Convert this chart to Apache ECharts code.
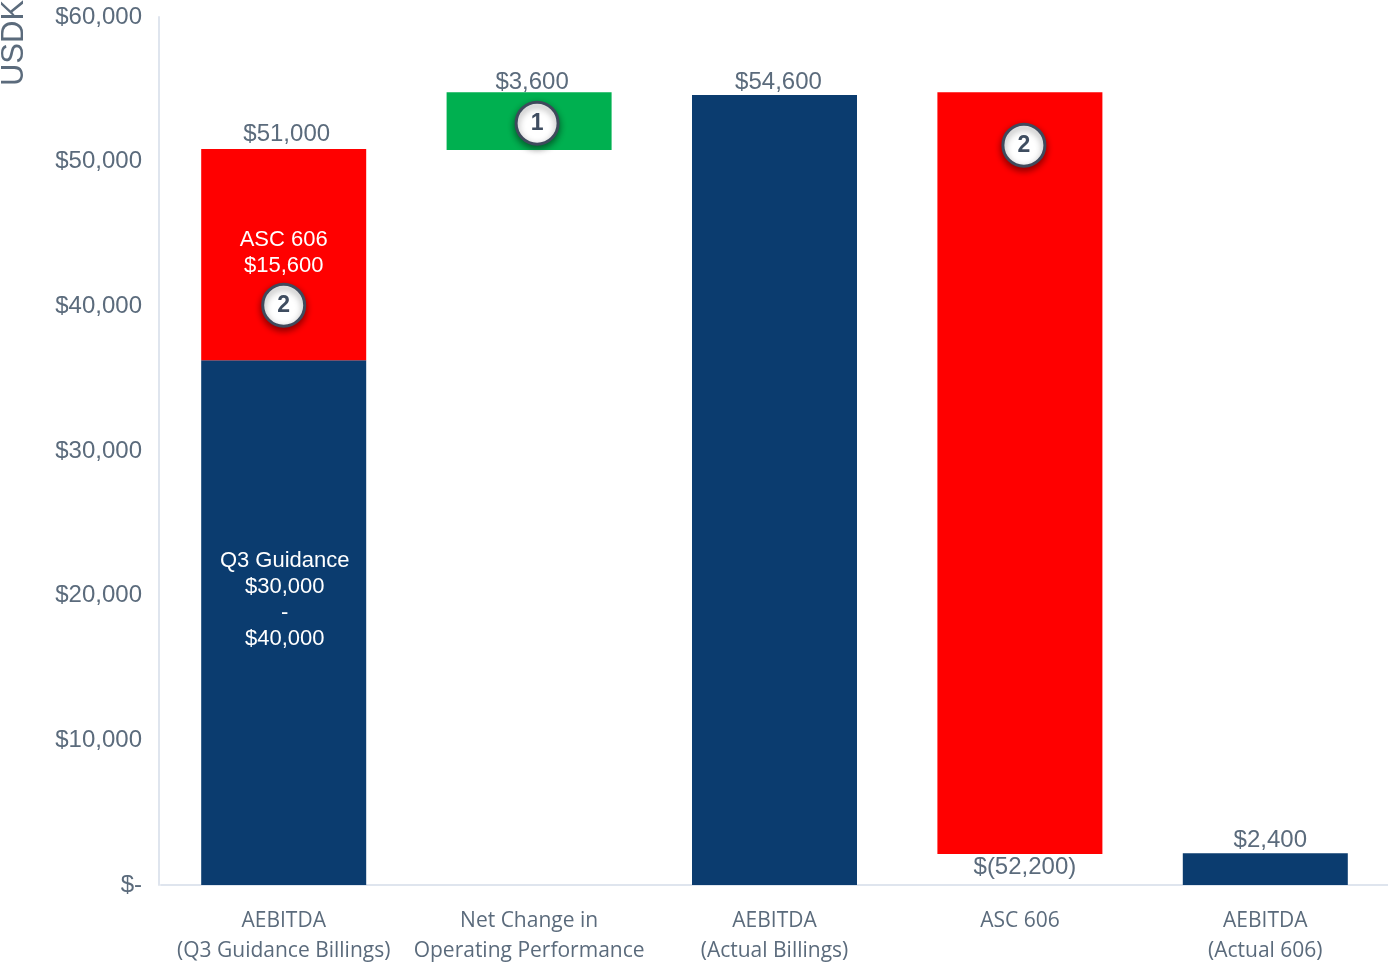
<!DOCTYPE html>
<html>
<head>
<meta charset="utf-8">
<style>html,body{margin:0;padding:0;background:#fff}#c{width:1388px;height:965px}</style>
<script src="https://cdn.jsdelivr.net/npm/echarts@6/dist/echarts.min.js"></script>
</head>
<body>
<div id="c"></div>
<script>
const categories = ['AEBITDA\n(Q3 Guidance Billings)', 'Net Change in\nOperating Performance', 'AEBITDA\n(Actual Billings)', 'ASC 606', 'AEBITDA\n(Actual 606)'];
const yMin = 0, yMax = 60000, yStep = 10000;
const baseValues  = [0, 50800, 0, 2140, 0];
const navyValues  = [36280, null, 54600, null, 2200];
const redValues   = [14590, null, null, 52660, null];
const greenValues = [null, 4000, null, null, null];
const totalAnchors = [50870, 54800, 54600, 2140, 2200];
const totalLabels  = ['$51,000', '$3,600', '$54,600', '$(52,200)', '$2,400'];
const navyInnerLabel = 'Q3 Guidance\n$30,000\n-\n$40,000';
const redInnerLabel  = 'ASC 606\n$15,600';
const badgeAnchors = [40080, 52660, null, 51140, null];
const badgeLabels  = ['2', '1', '', '2', ''];

const GREY = '#5b6b7c', AXIS = '#dfe5ee', SANS = '"Liberation Sans", Arial, sans-serif';
const barW = 165;
const totalOffsets = [[3, -2], [3, 3], [4, 0], [5, 0], [5, 0]];
const badgeShift = [0, 8, 0, 4, 0];

const chart = echarts.init(document.getElementById('c'), null, {renderer: 'canvas'});
chart.setOption({
  animation: false,
  backgroundColor: '#fff',
  grid: {left: 161, right: 0, top: 17, bottom: 80, containLabel: false, outerBoundsMode: 'none'},
  xAxis: {
    type: 'category', data: categories,
    axisTick: {show: false},
    axisLine: {lineStyle: {color: AXIS, width: 2}},
    axisLabel: {color: GREY, fontFamily: '"Open Sans", sans-serif', fontSize: 21, lineHeight: 30, margin: 21, interval: 0}
  },
  yAxis: {
    type: 'value', min: yMin, max: yMax, interval: yStep, offset: 2,
    splitLine: {show: false}, axisTick: {show: false},
    axisLine: {show: true, lineStyle: {color: AXIS, width: 2}},
    axisLabel: {color: GREY, fontFamily: SANS, fontSize: 24, margin: 17, padding: [4, 0, 0, 0],
      formatter: v => v === 0 ? '$-' : '$' + v.toLocaleString('en-US')}
  },
  graphic: [{
    type: 'text', x: 14, y: 43, rotation: Math.PI / 2,
    style: {text: 'USDK', fill: GREY, font: '31px ' + SANS, textAlign: 'center', textVerticalAlign: 'middle'}
  }],
  series: [
    {type: 'bar', stack: 's', barWidth: barW, data: baseValues, itemStyle: {color: 'transparent'}, silent: true},
    {type: 'bar', stack: 's', data: navyValues.map((v, i) => ({
        value: v,
        label: i === 0 ? {show: true, formatter: navyInnerLabel, position: 'inside', offset: [1, -23], color: '#fff', fontFamily: SANS, fontSize: 22, lineHeight: 26} : {show: false}
      })), itemStyle: {color: '#0b3c6f'}},
    {type: 'bar', stack: 's', data: redValues.map((v, i) => ({
        value: v,
        label: i === 0 ? {show: true, formatter: redInnerLabel, position: 'inside', offset: [0, -2], color: '#fff', fontFamily: SANS, fontSize: 22, lineHeight: 26} : {show: false}
      })), itemStyle: {color: '#ff0000'}},
    {type: 'bar', stack: 's', data: greenValues, itemStyle: {color: '#00b050'}},
    {type: 'scatter', symbolSize: 0, z: 5, itemStyle: {opacity: 1}, data: totalAnchors.map((v, i) => ({
        value: v,
        label: {show: true, formatter: totalLabels[i], position: i === 3 ? 'bottom' : 'top', distance: 1, offset: totalOffsets[i],
          color: GREY, fontFamily: SANS, fontSize: 24}
      }))},
    {type: 'scatter', symbol: 'circle', symbolSize: 42, z: 6, data: badgeAnchors.map((v, i) => ({
        value: v,
        symbolOffset: [badgeShift[i], 0],
        label: {show: true, formatter: badgeLabels[i], position: 'inside', color: '#3f4d60', fontFamily: SANS, fontWeight: 'bold', fontSize: 23}
      })),
      itemStyle: {opacity: 1, color: '#fff', borderColor: '#3f4a5c', borderWidth: 3, shadowBlur: 7, shadowOffsetY: 3, shadowColor: 'rgba(0,0,0,0.45)'}}
  ]
});
</script>
</body>
</html>
